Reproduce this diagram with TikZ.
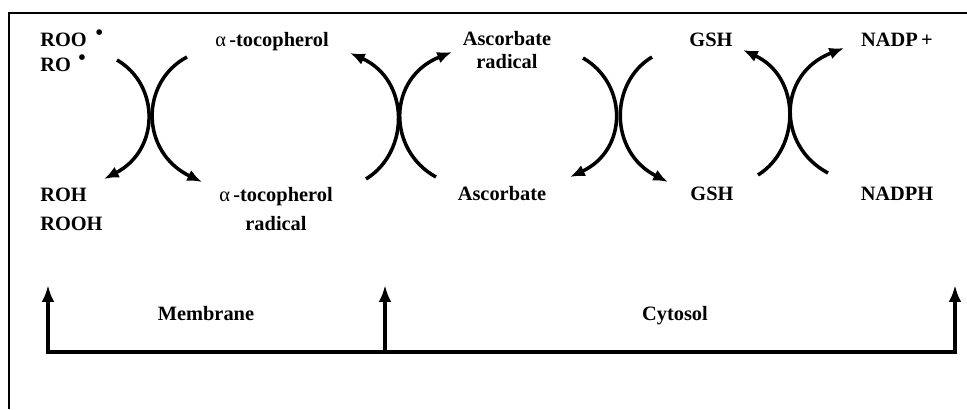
\documentclass[tikz,border=0pt]{standalone}
\usepackage{fontspec}
\setmainfont{Liberation Serif}
\usepackage{tikz}
\usetikzlibrary{arrows.meta}

\newcommand{\rad}[1]{\hspace{#1}\smash{\raisebox{4pt}{\mdseries\fontsize{17}{17}\selectfont •}}}
\newcommand{\alf}{{\mdseries α}\,}

\begin{document}
\begin{tikzpicture}[
    x=0.025cm, y=-0.025cm,
    lbl/.style={font=\bfseries\fontsize{14.5}{17}\selectfont, inner sep=0pt, anchor=base},
    lblw/.style={lbl, anchor=base west},
    arc/.style={line width=2.5pt, -{Latex[length=10.5pt, width=8.5pt]}},
    tip/.style={-{Latex[length=12pt, width=9pt]}},
    bar/.style={line width=3pt},
    frame/.style={line width=2pt}
]
\useasboundingbox (0,0) rectangle (967,409);
\draw[frame] (9,409) -- (9,13) -- (967,13);

% species
\node[lblw] (roo) at (40,46) {ROO\rad{6pt}};
\node[lblw] (ro) at (40,71) {RO\rad{5pt}};
\node[lblw] (roh) at (40,201) {ROH};
\node[lblw] (rooh) at (40,230) {ROOH};
\node[lbl] (toc) at (272,46) {\alf-tocopherol};
\node[lbl] (tocr) at (276,201) {\alf-tocopherol};
\node[lbl] (tocrb) at (276,230) {radical};
\node[lbl] (ascr) at (507,45) {Ascorbate};
\node[lbl] (ascrb) at (507,68) {radical};
\node[lbl] (asc) at (502,200) {Ascorbate};
\node[lbl] (gshtop) at (711,46) {GSH};
\node[lbl] (gshbot) at (712,200) {GSH};
\node[lbl] (nadp) at (897,46) {NADP\,+};
\node[lbl] (nadph) at (897,200) {NADPH};
\node[lbl] (membrane) at (206,320) {Membrane};
\node[lbl] (cytosol) at (675,320) {Cytosol};

% arc ends
\coordinate (p1a) at (117,60);  \coordinate (q1a) at (104,179);
\coordinate (p1b) at (187,57);  \coordinate (q1b) at (202,182);
\coordinate (p2a) at (366,179); \coordinate (q2a) at (350,53);
\coordinate (p2b) at (436,177); \coordinate (q2b) at (452,52);
\coordinate (p3a) at (583,58);  \coordinate (q3a) at (570,177);
\coordinate (p3b) at (652,57);  \coordinate (q3b) at (668,182);
\coordinate (p4a) at (758,175); \coordinate (q4a) at (743,50);
\coordinate (p4b) at (828,173); \coordinate (q4b) at (844,48);

\draw[arc] (p1a) .. controls +(43,25) and +(56,-29) .. (q1a);
\draw[arc] (p1b) .. controls +(-47,25) and +(-62,-30) .. (q1b);
\draw[arc] (p2a) .. controls +(44,-27) and +(60,27) .. (q2a);
\draw[arc] (p2b) .. controls +(-49,-27) and +(-65,26) .. (q2b);
\draw[arc] (p3a) .. controls +(45,26) and +(58,-27) .. (q3a);
\draw[arc] (p3b) .. controls +(-43,26) and +(-59,-30) .. (q3b);
\draw[arc] (p4a) .. controls +(43,-27) and +(58,27) .. (q4a);
\draw[arc] (p4b) .. controls +(-51,-27) and +(-67,26) .. (q4b);

% compartments
\coordinate (b1) at (48,352);  \coordinate (t1) at (48,285);
\coordinate (b2) at (385,352); \coordinate (t2) at (385,285);
\coordinate (b3) at (955,352); \coordinate (t3) at (955,285);
\draw[bar, {Latex[length=12pt, width=9pt]}-{Latex[length=12pt, width=9pt]}] (t1) -- (b1) -- (b3) -- (t3);
\draw[bar, tip] (b2) -- (t2);
\end{tikzpicture}
\end{document}
